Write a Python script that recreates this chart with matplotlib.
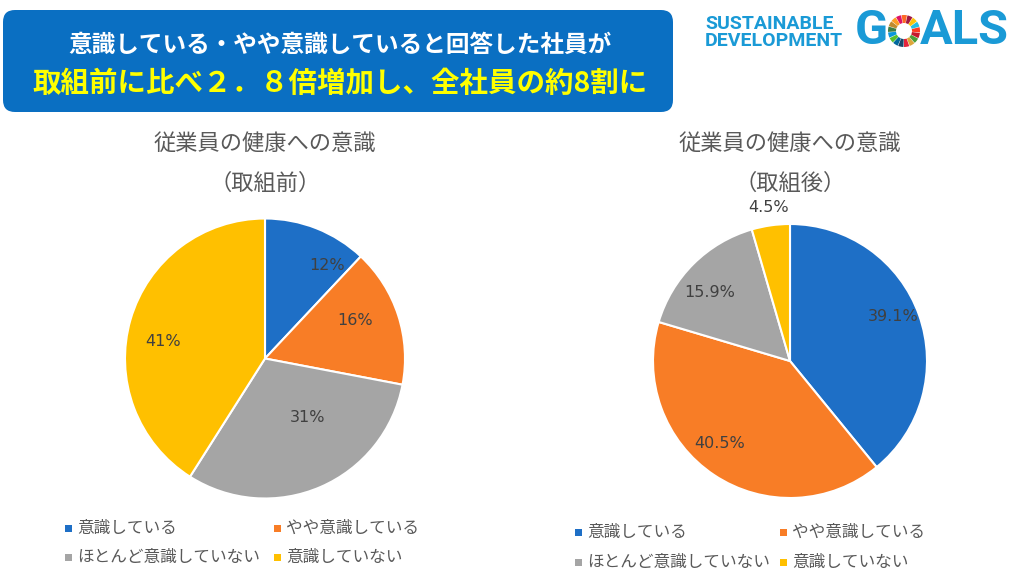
import matplotlib
matplotlib.use("Agg")
import matplotlib.pyplot as plt
from matplotlib.patches import FancyBboxPatch, Wedge, Rectangle
import numpy as np

plt.rcParams['font.family'] = ['Noto Sans CJK JP', 'DejaVu Sans']

# ---- data ----
categories = ["意識している", "やや意識している", "ほとんど意識していない", "意識していない"]
before_values = [12, 16, 31, 41]
before_labels = ["12%", "16%", "31%", "41%"]
after_values = [39.1, 40.5, 15.9, 4.5]
after_labels = ["39.1%", "40.5%", "15.9%", "4.5%"]
chart_title = "従業員の健康への意識"
before_sub = "（取組前）"
after_sub = "（取組後）"
header_line1 = "意識している・やや意識していると回答した社員が"
header_line2 = "取組前に比べ２．８倍増加し、全社員の約8割に"
sdg_text = "SUSTAINABLE\nDEVELOPMENT"
sdg_colors = ["#E5243B", "#DDA63A", "#4C9F38", "#C5192D", "#FF3A21", "#26BDE2",
              "#FCC30B", "#A21942", "#FD6925", "#DD1367", "#FD9D24", "#BF8B2E",
              "#3F7E44", "#0A97D9", "#56C02B", "#00689D", "#19486A"]

# label placement style (radius fraction, angle shift in degrees) per slice
before_label_style = [(0.80, -12), (0.70, 5), (0.52, 12), (0.74, 7)]
after_label_style = [(0.82, 3.5), (0.79, -7), (0.77, 5), (1.13, 0)]

colors = ["#1E6FC6", "#F87D26", "#A5A5A5", "#FFC000"]
W, H = 1024, 584
fig = plt.figure(figsize=(W / 100, H / 100), dpi=100)
fig.patch.set_facecolor("white")

# overlay axes in pixel coordinates
ov = fig.add_axes([0, 0, 1, 1])
ov.set_xlim(0, W)
ov.set_ylim(H, 0)
ov.axis("off")

# header box
box = FancyBboxPatch((3, 10), 670, 102, boxstyle="round,pad=0,rounding_size=12",
                     facecolor="#0A6FC2", edgecolor="none")
ov.add_patch(box)
ov.text(340, 45, header_line1, color="white", fontsize=17, fontweight="bold",
        ha="center", va="center")
ov.text(340, 84, header_line2, color="#FFFF00", fontsize=20.5, fontweight="bold",
        ha="center", va="center")

# SDG logo
sdg_blue = "#1A9AD6"
ov.text(705, 32.5, sdg_text, color=sdg_blue, fontsize=14, fontweight="bold",
        family="Roboto", ha="left", va="center", linespacing=0.86)
ov.text(855, 31, "G", color=sdg_blue, fontsize=35, fontweight="bold",
        family="Roboto", ha="left", va="center")
ov.text(920, 31, "ALS", color=sdg_blue, fontsize=35, fontweight="bold",
        family="Roboto", ha="left", va="center")
n = len(sdg_colors)
for i, c in enumerate(sdg_colors):
    a0 = 90 - i * 360 / n
    ov.add_patch(Wedge((904, 31), 16, a0 - 360 / n + 2, a0, width=8, facecolor=c,
                       edgecolor="none"))

# titles
for cx, sub in [(265, before_sub), (790, after_sub)]:
    ov.text(cx, 143, chart_title, color="#595959", fontsize=16, ha="center", va="center")
    ov.text(cx, 183, sub, color="#595959", fontsize=16, ha="center", va="center")

# pies
def draw_pie(rect, values, labels, style):
    ax = fig.add_axes(rect)
    ax.pie(values, colors=colors, startangle=90, counterclock=False,
           wedgeprops=dict(edgecolor="white", linewidth=1.5))
    ax.set_xlim(-1, 1)
    ax.set_ylim(-1, 1)
    ax.set_aspect("equal")
    total = sum(values)
    ang = 90.0
    for v, lab, (r, dth) in zip(values, labels, style):
        mid = ang - v / total * 360 / 2 + dth
        ang -= v / total * 360
        x = r * np.cos(np.radians(mid))
        y = r * np.sin(np.radians(mid))
        ax.text(x, y, lab, ha="center", va="center", fontsize=11.5, color="#404040",
                family="DejaVu Sans", clip_on=False)
    return ax

draw_pie([125 / W, (H - 498.5) / H, 280 / W, 280 / H], before_values, before_labels,
         before_label_style)
draw_pie([653 / W, (H - 498) / H, 274 / W, 274 / H], after_values, after_labels,
         after_label_style)

# legends
def legend(x1, x2, y1, y2):
    pos = [(x1, y1), (x2, y1), (x1, y2), (x2, y2)]
    for (x, y), c, lab in zip(pos, colors, categories):
        ov.add_patch(Rectangle((x - 3.5, y - 3.5), 7, 7, facecolor=c, edgecolor="none"))
        ov.text(x + 9, y, lab, color="#595959", fontsize=12, ha="left", va="center")

legend(68, 277, 528, 557)
legend(578, 783, 532, 562)

fig.savefig("out.png", dpi=100, facecolor="white")
